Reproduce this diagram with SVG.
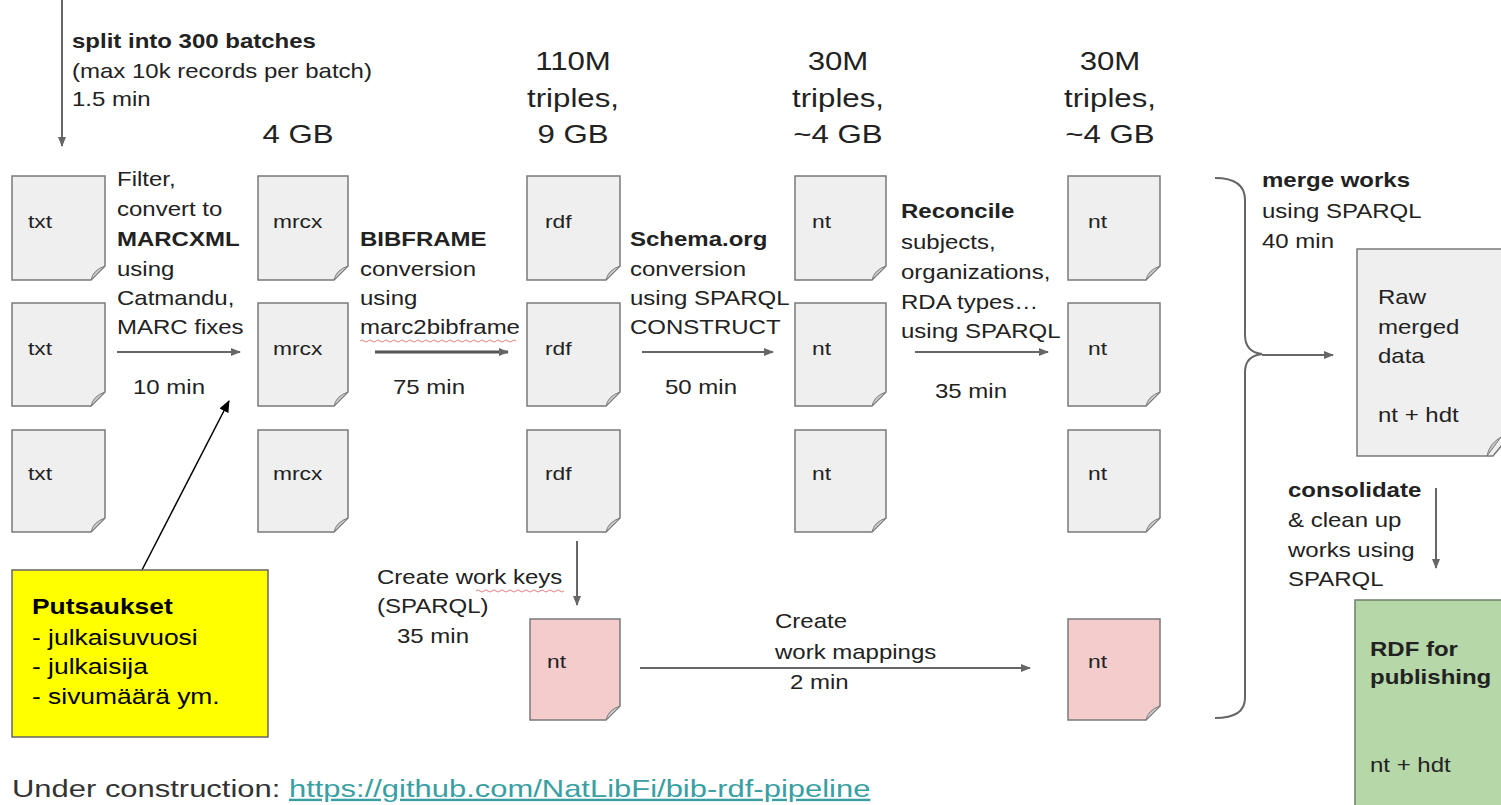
<svg xmlns="http://www.w3.org/2000/svg" width="1501" height="805" viewBox="0 0 1501 805">
<style>
text{font-family:"Liberation Sans",Arial,sans-serif;font-size:20px;fill:#222;transform:scale(1.2,1)}
.b{font-weight:bold}
.big{font-size:26px;text-anchor:middle}
.lbl{font-size:19px}
.note{font-size:22px;fill:#000}
.foot{font-size:24px;fill:#333;transform:translate(12px,797px) scale(1.29,1)}
.doc{fill:#efefef;stroke:#7a7a7a;stroke-width:1.5}
.pink{fill:#f4cccc}
.green{fill:#b6d7a8;stroke:#6f7f68}
.fold{fill:#c9c9c9;stroke:#7a7a7a;stroke-width:1}
.arr{stroke:#666;stroke-width:2;fill:none;marker-end:url(#ah)}
.wavy{fill:none;stroke:#e08080;stroke-width:1}
</style>
<defs>
<marker id="ah" markerWidth="10" markerHeight="8" refX="9" refY="4" orient="auto" markerUnits="userSpaceOnUse"><path d="M0,0 L10,4 L0,8 Z" fill="#666"/></marker>
<marker id="ahk" markerWidth="12" markerHeight="10" refX="11" refY="5" orient="auto" markerUnits="userSpaceOnUse"><path d="M0,0 L12,5 L0,10 Z" fill="#000"/></marker>
</defs>

<g id="connectors">
<line class="arr" x1="62" y1="0" x2="62" y2="146"/>
<line class="arr" x1="117" y1="352" x2="240" y2="352"/>
<line class="arr" x1="375" y1="352" x2="508" y2="352" style="stroke-width:3;stroke:#555"/>
<line class="arr" x1="642" y1="352" x2="773" y2="352"/>
<line class="arr" x1="915" y1="352" x2="1048" y2="352"/>
<line class="arr" x1="1262" y1="355" x2="1333" y2="355"/>
<line class="arr" x1="1436" y1="488" x2="1436" y2="568"/>
<line class="arr" x1="577" y1="541" x2="577" y2="605"/>
<line class="arr" x1="640" y1="668" x2="1030" y2="668"/>
<line x1="142" y1="570" x2="229" y2="401" stroke="#000" stroke-width="1.5" marker-end="url(#ahk)"/>
<path d="M1215,178 Q1245,178 1245,200 L1245,335 Q1245,352 1262,354 Q1245,356 1245,372 L1245,698 Q1245,718 1215,718" fill="none" stroke="#666" stroke-width="2"/>
</g>

<g id="docs-txt">
<path class="doc" d="M12,176 h93 v90 l-14,14 h-79 z"/><path class="fold" d="M105,266 l-14,14 q2,-10 14,-14 z"/><text class="lbl" x="23.33" y="228">txt</text>
<path class="doc" d="M12,303 h93 v89 l-14,14 h-79 z"/><path class="fold" d="M105,392 l-14,14 q2,-10 14,-14 z"/><text class="lbl" x="23.33" y="355">txt</text>
<path class="doc" d="M12,430 h93 v88 l-14,14 h-79 z"/><path class="fold" d="M105,518 l-14,14 q2,-10 14,-14 z"/><text class="lbl" x="23.33" y="480">txt</text>
</g>
<g id="docs-mrcx">
<path class="doc" d="M258,176 h90 v90 l-14,14 h-76 z"/><path class="fold" d="M348,266 l-14,14 q2,-10 14,-14 z"/><text class="lbl" x="227.5" y="228">mrcx</text>
<path class="doc" d="M258,303 h90 v89 l-14,14 h-76 z"/><path class="fold" d="M348,392 l-14,14 q2,-10 14,-14 z"/><text class="lbl" x="227.5" y="355">mrcx</text>
<path class="doc" d="M258,430 h90 v88 l-14,14 h-76 z"/><path class="fold" d="M348,518 l-14,14 q2,-10 14,-14 z"/><text class="lbl" x="227.5" y="480">mrcx</text>
</g>
<g id="docs-rdf">
<path class="doc" d="M527,176 h93 v90 l-14,14 h-79 z"/><path class="fold" d="M620,266 l-14,14 q2,-10 14,-14 z"/><text class="lbl" x="454.17" y="228">rdf</text>
<path class="doc" d="M527,303 h93 v89 l-14,14 h-79 z"/><path class="fold" d="M620,392 l-14,14 q2,-10 14,-14 z"/><text class="lbl" x="454.17" y="355">rdf</text>
<path class="doc" d="M527,430 h93 v88 l-14,14 h-79 z"/><path class="fold" d="M620,518 l-14,14 q2,-10 14,-14 z"/><text class="lbl" x="454.17" y="480">rdf</text>
</g>
<g id="docs-nt1">
<path class="doc" d="M795,176 h91 v90 l-14,14 h-77 z"/><path class="fold" d="M886,266 l-14,14 q2,-10 14,-14 z"/><text class="lbl" x="676.67" y="228">nt</text>
<path class="doc" d="M795,303 h91 v89 l-14,14 h-77 z"/><path class="fold" d="M886,392 l-14,14 q2,-10 14,-14 z"/><text class="lbl" x="676.67" y="355">nt</text>
<path class="doc" d="M795,430 h91 v88 l-14,14 h-77 z"/><path class="fold" d="M886,518 l-14,14 q2,-10 14,-14 z"/><text class="lbl" x="676.67" y="480">nt</text>
</g>
<g id="docs-nt2">
<path class="doc" d="M1068,176 h92 v90 l-14,14 h-78 z"/><path class="fold" d="M1160,266 l-14,14 q2,-10 14,-14 z"/><text class="lbl" x="906.67" y="228">nt</text>
<path class="doc" d="M1068,303 h92 v89 l-14,14 h-78 z"/><path class="fold" d="M1160,392 l-14,14 q2,-10 14,-14 z"/><text class="lbl" x="906.67" y="355">nt</text>
<path class="doc" d="M1068,430 h92 v88 l-14,14 h-78 z"/><path class="fold" d="M1160,518 l-14,14 q2,-10 14,-14 z"/><text class="lbl" x="906.67" y="480">nt</text>
</g>
<g id="doc-keys">
<path class="doc pink" d="M530,619 h90 v87 l-14,14 h-76 z"/><path class="fold" d="M620,706 l-14,14 q2,-10 14,-14 z"/><text class="lbl" x="455.83" y="668">nt</text>
</g>
<g id="doc-mappings">
<path class="doc pink" d="M1068,619 h92 v87 l-14,14 h-78 z"/><path class="fold" d="M1160,706 l-14,14 q2,-10 14,-14 z"/><text class="lbl" x="906.67" y="668">nt</text>
</g>
<g id="doc-raw">
<path class="doc" d="M1357,249 h150 v190 l-14,17 h-136 z"/><path class="fold" d="M1501,437 l-14,19 q2,-12 14,-19 z"/>
<text x="1148.33" y="304">Raw</text><text x="1148.33" y="334">merged</text><text x="1148.33" y="363">data</text><text x="1148.33" y="422">nt + hdt</text>
</g>
<g id="doc-publish">
<path class="doc green" d="M1355,600 h150 v210 h-150 z"/>
<text class="b" x="1141.67" y="656">RDF for</text><text class="b" x="1141.67" y="684">publishing</text><text x="1141.67" y="772">nt + hdt</text>
</g>

<g id="note">
<rect x="12" y="570" width="256" height="167" fill="#ffff00" stroke="#666" stroke-width="1.5"/>
<text class="note b" x="26.67" y="614">Putsaukset</text>
<text class="note" x="26.67" y="645">- julkaisuvuosi</text>
<text class="note" x="26.67" y="674">- julkaisija</text>
<text class="note" x="26.67" y="704">- sivumäärä ym.</text>
</g>

<g id="labels">
<text class="b" x="60" y="48">split into 300 batches</text>
<text x="60" y="78">(max 10k records per batch)</text>
<text x="60" y="106">1.5 min</text>

<text class="big" x="248.33" y="143">4 GB</text>
<text class="big" x="477.5" y="70">110M</text><text class="big" x="477.5" y="107">triples,</text><text class="big" x="477.5" y="143">9 GB</text>
<text class="big" x="698.33" y="70">30M</text><text class="big" x="698.33" y="107">triples,</text><text class="big" x="698.33" y="143">~4 GB</text>
<text class="big" x="925" y="70">30M</text><text class="big" x="925" y="107">triples,</text><text class="big" x="925" y="143">~4 GB</text>

<text x="97.5" y="186">Filter,</text>
<text x="97.5" y="216">convert to</text>
<text class="b" x="97.5" y="246">MARCXML</text>
<text x="97.5" y="276">using</text>
<text x="97.5" y="305">Catmandu,</text>
<text x="97.5" y="334">MARC fixes</text>
<text x="110.83" y="394">10 min</text>

<text class="b" x="300" y="246">BIBFRAME</text>
<text x="300" y="276">conversion</text>
<text x="300" y="305">using</text>
<text x="300" y="334">marc2bibframe</text>
<path class="wavy" d="M360,341 q2,-2 4,0 t4,0 t4,0 t4,0 t4,0 t4,0 t4,0 t4,0 t4,0 t4,0 t4,0 t4,0 t4,0 t4,0 t4,0 t4,0 t4,0 t4,0 t4,0 t4,0 t4,0 t4,0 t4,0 t4,0 t4,0 t4,0 t4,0 t4,0 t4,0 t4,0 t4,0 t4,0 t4,0 t4,0 t4,0 t4,0 t4,0 t4,0 t4,0"/>
<text x="327.5" y="394">75 min</text>

<text class="b" x="525" y="246">Schema.org</text>
<text x="525" y="276">conversion</text>
<text x="525" y="305">using SPARQL</text>
<text x="525" y="334">CONSTRUCT</text>
<text x="554.17" y="394">50 min</text>

<text class="b" x="750.83" y="218">Reconcile</text>
<text x="750.83" y="249">subjects,</text>
<text x="750.83" y="279">organizations,</text>
<text x="750.83" y="309">RDA types…</text>
<text x="750.83" y="338">using SPARQL</text>
<text x="779.17" y="398">35 min</text>

<text class="b" x="1051.67" y="187">merge works</text>
<text x="1051.67" y="218">using SPARQL</text>
<text x="1051.67" y="248">40 min</text>

<text class="b" x="1073.33" y="497">consolidate</text>
<text x="1073.33" y="527">&amp; clean up</text>
<text x="1073.33" y="557">works using</text>
<text x="1073.33" y="586">SPARQL</text>

<text x="314.17" y="584">Create work keys</text>
<path class="wavy" d="M476,591 q2,-2 4,0 t4,0 t4,0 t4,0 t4,0 t4,0 t4,0 t4,0 t4,0 t4,0 t4,0 t4,0 t4,0 t4,0 t4,0 t4,0 t4,0 t4,0 t4,0 t4,0 t4,0 t4,0"/>
<text x="314.17" y="613">(SPARQL)</text>
<text x="330.83" y="643">35 min</text>

<text x="645.83" y="628">Create</text>
<text x="645.83" y="659">work mappings</text>
<text x="658.33" y="689">2 min</text>

<text class="foot" x="0" y="0">Under construction: <tspan fill="#3a9fa3" text-decoration="underline">https://github.com/NatLibFi/bib-rdf-pipeline</tspan></text>
</g>
</svg>
